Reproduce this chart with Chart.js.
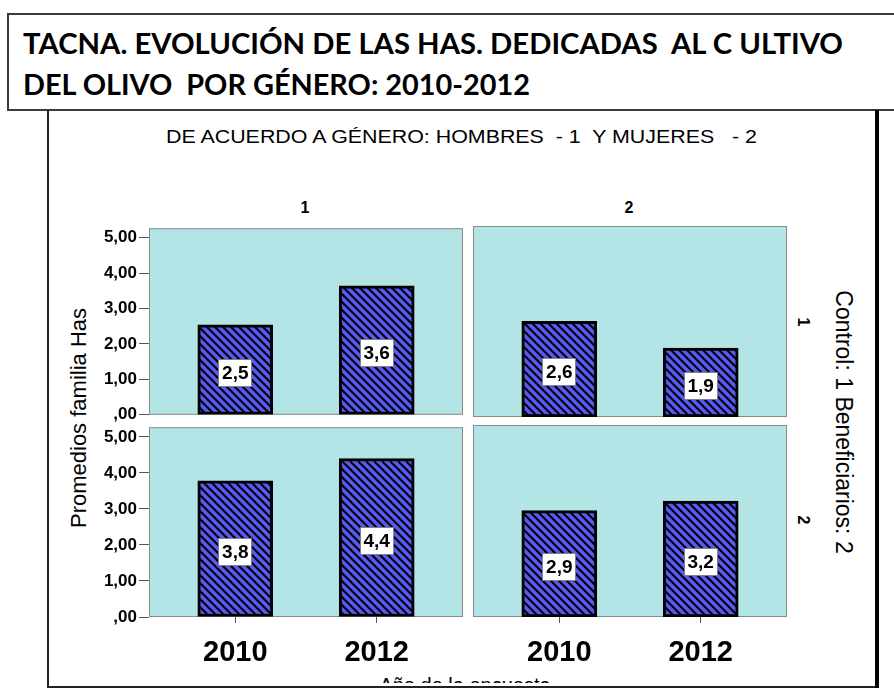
<!DOCTYPE html>
<html lang="es">
<head>
<meta charset="utf-8">
<title>TACNA - Has dedicadas al cultivo del olivo</title>
<script src="https://cdn.jsdelivr.net/npm/chart.js@4.4.1/dist/chart.umd.min.js"></script>
<style>
body { margin: 0; background: #fff; font-family: 'Liberation Sans', Arial, sans-serif; }
#page { position: relative; width: 894px; height: 689px; overflow: hidden; background: #fff; }
.abs { position: absolute; white-space: pre; line-height: 1; color: #000; }
.fit { display: inline-block; transform-origin: 0 0; }
#titlebox { position: absolute; left: 7px; top: 13px; width: 920px; height: 98px; border: 2px solid #3a3a3a; box-sizing: border-box; }
.tline { font-family: Lato, 'Open Sans', Arial, sans-serif; font-weight: bold; font-size: 29px; left: 23px; }
canvas { position: absolute; }
.rot { transform: translate(-50%, -50%) rotate(90deg); }
.rotl { transform: translate(-50%, -50%) rotate(-90deg); }
</style>
</head>
<body>
<div id="page">
  <div id="titlebox"></div>
  <div class="abs tline" style="top:28px;"><span class="fit" data-w="820">TACNA. EVOLUCIÓN DE LAS HAS. DEDICADAS  AL C ULTIVO</span></div>
  <div class="abs tline" style="top:69px;"><span class="fit" data-w="507">DEL OLIVO  POR GÉNERO: 2010-2012</span></div>

  <div class="abs" style="left:47px; top:110px; width:2px; height:578px; background:#222;"></div>
  <div class="abs" style="left:47px; top:686px; width:831px; height:2px; background:#222;"></div>
  <div class="abs" style="left:875px; top:110px; width:4px; height:578px; background:#000;"></div>

  <div class="abs" style="left:166px; top:128px; font-size:18px;"><span class="fit" data-w="591">DE ACUERDO A GÉNERO: HOMBRES  - 1  Y MUJERES   - 2</span></div>

  <div class="abs" style="left:305px; top:208px; font-size:16px; font-weight:bold; transform:translate(-50%,-50%);">1</div>
  <div class="abs" style="left:629px; top:208px; font-size:16px; font-weight:bold; transform:translate(-50%,-50%);">2</div>

  <div class="abs rot" style="left:803px; top:322px; font-size:16px; font-weight:bold;">1</div>
  <div class="abs rot" style="left:803px; top:520px; font-size:16px; font-weight:bold;">2</div>

  <div class="abs rot" style="left:843px; top:422px; font-size:23px;">Control: 1 Beneficiarios: 2</div>
  <div class="abs rotl" style="left:79px; top:418px; font-size:22px;">Promedios familia Has</div>

  <div class="abs" style="left:300px; top:672px; width:330px; height:11px; overflow:hidden;">
    <div class="abs" style="left:0; top:3px; width:330px; text-align:center; font-size:20px;">Año de la encuesta</div>
  </div>

  <canvas id="c11" width="425" height="211" style="left:40px; top:216px;"></canvas>
  <canvas id="c12" width="316" height="211" style="left:473px; top:216px;"></canvas>
  <canvas id="c21" width="425" height="272" style="left:40px; top:415px;"></canvas>
  <canvas id="c22" width="316" height="272" style="left:473px; top:415px;"></canvas>
</div>

<script>
// años de la encuesta (eje x)
const years = [2010, 2012];

// promedios de has por familia: fila 1 = Control, fila 2 = Beneficiarios
const hombresControl = [2.54, 3.64];
const mujeresControl = [2.64, 1.90];
const hombresBenef = [3.78, 4.40];
const mujeresBenef = [2.92, 3.18];

const yTicks = [0, 1, 2, 3, 4, 5];

// ajustar el ancho de los textos al de la imagen
document.querySelectorAll('[data-w]').forEach(function (el) {
    var w = el.getBoundingClientRect().width;
    el.style.transform = 'scaleX(' + (+el.dataset.w / w) + ')';
});

Chart.defaults.font.family = "'Liberation Sans', Arial, sans-serif";
Chart.defaults.color = '#000';

function hatch() {
    var c = document.createElement('canvas');
    c.width = 8; c.height = 8;
    var g = c.getContext('2d');
    g.fillStyle = '#5858f4';
    g.fillRect(0, 0, 8, 8);
    g.strokeStyle = '#000';
    g.lineWidth = 2;
    g.beginPath();
    g.moveTo(-2, -2); g.lineTo(10, 10);
    g.moveTo(-2, 6); g.lineTo(2, 10);
    g.moveTo(6, -2); g.lineTo(10, 2);
    g.stroke();
    return g.createPattern(c, 'repeat');
}

function fmtTick(v) {
    return v === 0 ? ',00' : v.toFixed(2).replace('.', ',');
}

const panelBg = {
    id: 'panelBg',
    beforeDatasetsDraw(chart) {
        var a = chart.chartArea, ctx = chart.ctx;
        ctx.save();
        ctx.fillStyle = '#b3e5e7';
        ctx.fillRect(a.left, a.top, a.right - a.left, a.bottom - a.top);
        ctx.strokeStyle = '#8a8a8a';
        ctx.lineWidth = 1;
        ctx.strokeRect(a.left + 0.5, a.top + 0.5, a.right - a.left - 1, a.bottom - a.top - 1);
        ctx.restore();
    }
};

const valueBoxes = {
    id: 'valueBoxes',
    afterDatasetsDraw(chart) {
        var ctx = chart.ctx;
        var meta = chart.getDatasetMeta(0);
        var vals = chart.data.datasets[0].data;
        ctx.save();
        ctx.font = "bold 19px 'Liberation Sans', Arial, sans-serif";
        ctx.textAlign = 'center';
        ctx.textBaseline = 'middle';
        meta.data.forEach(function (bar, i) {
            var txt = vals[i].y.toFixed(1).replace('.', ',');
            var cy = Math.round((bar.y + bar.base) / 2 + 3);
            var w = Math.round(ctx.measureText(txt).width + 8), h = 28;
            var x0 = Math.round(bar.x - w / 2), y0 = Math.round(cy - h / 2);
            ctx.fillStyle = '#fff';
            ctx.fillRect(x0, y0, w, h);
            ctx.strokeStyle = '#808080';
            ctx.lineWidth = 1;
            ctx.strokeRect(x0 + 0.5, y0 + 0.5, w - 1, h - 1);
            ctx.fillStyle = '#000';
            ctx.fillText(txt, bar.x, cy + 1);
        });
        ctx.restore();
    }
};

function makePanel(id, values, opts) {
    return new Chart(document.getElementById(id), {
        type: 'bar',
        data: {
            datasets: [{
                data: years.map(function (y, i) { return { x: y, y: values[i] }; }),
                backgroundColor: hatch(),
                borderColor: '#000',
                borderWidth: 3,
                borderSkipped: false,
                barThickness: 75
            }]
        },
        options: {
            responsive: false,
            animation: false,
            layout: { padding: { top: opts.padTop, bottom: opts.padBottom, left: 0, right: 2 } },
            plugins: { legend: { display: false }, tooltip: { enabled: false } },
            scales: {
                x: {
                    type: 'linear',
                    min: 2008.78,
                    max: 2013.22,
                    offset: false,
                    display: opts.showX,
                    afterBuildTicks: function (s) { s.ticks = years.map(function (v) { return { value: v }; }); },
                    afterFit: function (s) { if (opts.showX) s.height = 70; },
                    grid: { offset: false, drawOnChartArea: false, drawTicks: true, tickLength: 6, color: '#555' },
                    border: { display: false },
                    ticks: { font: { size: 29, weight: 'bold' }, padding: 13, maxRotation: 0, callback: function (v) { return String(v); } }
                },
                y: {
                    min: 0,
                    max: 5.27,
                    display: opts.showY,
                    afterBuildTicks: function (s) { s.ticks = yTicks.map(function (v) { return { value: v }; }); },
                    afterFit: function (s) { if (opts.showY) s.width = 109; },
                    grid: { drawOnChartArea: false, drawTicks: true, tickLength: 10, color: '#555' },
                    border: { display: false },
                    ticks: { font: { size: 17, weight: 'bold' }, padding: 2, callback: fmtTick }
                }
            }
        },
        plugins: [panelBg, valueBoxes]
    });
}

makePanel('c11', hombresControl, { showX: false, showY: true, padTop: 10, padBottom: 10 });
makePanel('c12', mujeresControl, { showX: false, showY: false, padTop: 10, padBottom: 10 });
makePanel('c21', hombresBenef, { showX: true, showY: true, padTop: 10, padBottom: 0 });
makePanel('c22', mujeresBenef, { showX: true, showY: false, padTop: 10, padBottom: 0 });
</script>
</body>
</html>
